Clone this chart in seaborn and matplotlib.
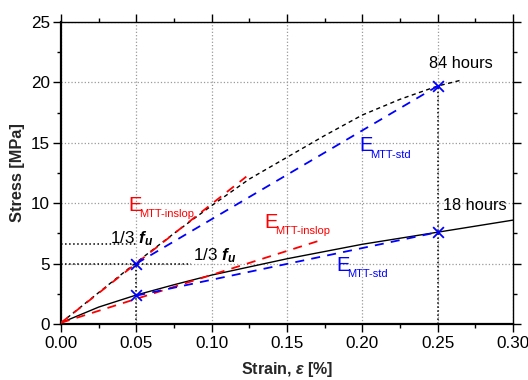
import matplotlib
matplotlib.use("Agg")
import matplotlib.pyplot as plt
import seaborn as sns
import numpy as np
from matplotlib.ticker import MultipleLocator, FormatStrFormatter

# ---- data ----
strain_84h = [0.0, 0.025, 0.05, 0.075, 0.10, 0.125, 0.15, 0.175, 0.20, 0.225, 0.25, 0.266]
stress_84h = [0.1, 2.6, 5.1, 7.5, 9.8, 12.0, 13.8, 15.6, 17.3, 18.6, 19.7, 20.2]

strain_18h = [0.0, 0.025, 0.05, 0.075, 0.10, 0.15, 0.20, 0.25, 0.30]
stress_18h = [0.1, 1.4, 2.4, 3.25, 4.05, 5.4, 6.6, 7.6, 8.6]

inslop_84h_x = [0.0, 0.123]
inslop_84h_y = [0.1, 12.2]
std_84h_x = [0.05, 0.25]
std_84h_y = [5.0, 19.7]

inslop_18h_x = [0.0, 0.174]
inslop_18h_y = [0.1, 7.0]
std_18h_x = [0.05, 0.25]
std_18h_y = [2.35, 7.6]

marker_x = [0.05, 0.25, 0.05, 0.25]
marker_y = [5.0, 19.7, 2.4, 7.6]

third_fu_84h = 6.6
third_fu_18h = 5.0

x_ticks = [0.00, 0.05, 0.10, 0.15, 0.20, 0.25, 0.30]
y_ticks = [0, 5, 10, 15, 20, 25]

sns.set_theme(style="ticks")
plt.rcParams['font.family'] = ['Liberation Sans', 'DejaVu Sans']
plt.rcParams['mathtext.fontset'] = 'custom'
plt.rcParams['mathtext.rm'] = 'Liberation Sans'
plt.rcParams['mathtext.it'] = 'Liberation Sans:italic:bold'
plt.rcParams['mathtext.bf'] = 'Liberation Sans:bold'

fig = plt.figure(figsize=(5.28, 3.8), dpi=100)
ax = fig.add_axes([61/528, 1-324/380, (513-61)/528, (324-22)/380])
ax.set_facecolor('white')

# grid
ax.grid(True, which='major', color='#9a9a9a', linestyle=':', linewidth=0.9)
ax.set_axisbelow(True)

# guide lines (dark dotted)
gl = dict(color='black', linestyle=':', linewidth=1.1, zorder=2)
ax.plot([marker_x[0], marker_x[0]], [0, marker_y[0]], **gl)
ax.plot([marker_x[1], marker_x[1]], [0, marker_y[1]], **gl)
ax.plot([0, 0.05], [third_fu_84h, third_fu_84h], **gl)
ax.plot([0, 0.086], [third_fu_18h, third_fu_18h], **gl)

# curves
sns.lineplot(x=strain_84h, y=stress_84h, ax=ax, color='black', linewidth=1.0,
             linestyle=(0, (3, 2.5)), zorder=3)
sns.lineplot(x=strain_18h, y=stress_18h, ax=ax, color='black', linewidth=1.0,
             linestyle='-', zorder=3)
sns.lineplot(x=inslop_84h_x, y=inslop_84h_y, ax=ax, color='#ff0000', linewidth=1.3,
             linestyle=(0, (5, 4)), zorder=4)
sns.lineplot(x=inslop_18h_x, y=inslop_18h_y, ax=ax, color='#ff0000', linewidth=1.3,
             linestyle=(0, (5, 4)), zorder=4)
sns.lineplot(x=std_84h_x, y=std_84h_y, ax=ax, color='#0000ff', linewidth=1.3,
             linestyle=(0, (5, 4)), zorder=4)
sns.lineplot(x=std_18h_x, y=std_18h_y, ax=ax, color='#0000ff', linewidth=1.3,
             linestyle=(0, (5, 4)), zorder=4)
sns.scatterplot(x=marker_x, y=marker_y, ax=ax, marker='x', color='#0000ff', s=60,
                linewidth=1.3, zorder=5)

ax.set_xlim(0, 0.30)
ax.set_ylim(0, 25)
ax.set_xticks(x_ticks)
ax.set_yticks(y_ticks)
ax.xaxis.set_major_formatter(FormatStrFormatter('%.2f'))
ax.xaxis.set_minor_locator(MultipleLocator(0.025))
ax.yaxis.set_minor_locator(MultipleLocator(2.5))
ax.tick_params(which='both', direction='out', top=True, right=True, colors='black',
               labelsize=12.3, labelcolor='black')
ax.tick_params(which='major', length=6, width=1.0)
ax.tick_params(which='minor', length=3, width=1.0)
ax.tick_params(axis='x', pad=3)
ax.tick_params(axis='y', pad=2)
for side in ['top', 'right']:
    ax.spines[side].set_linewidth(1.0)
    ax.spines[side].set_color('black')
for side in ['left', 'bottom']:
    ax.spines[side].set_linewidth(1.6)
    ax.spines[side].set_color('black')

ax.set_xlabel(r"Strain, $\varepsilon$ [%]", fontsize=11.5, fontweight='bold', labelpad=6)
ax.set_ylabel("Stress [MPa]", fontsize=11.8, fontweight='bold', labelpad=4)

# texts
ax.text(0.244, 21.6, "84 hours", fontsize=11.8, ha='left', va='center', color='black')
ax.text(0.2533, 9.8, "18 hours", fontsize=11.8, ha='left', va='center', color='black')

def e_label(x, y, sub, color):
    ax.text(x, y, "E", fontsize=14.5, ha='left', va='center', color=color, zorder=6)
    ax.annotate(sub, xy=(x, y), xytext=(8.0, -6.5), textcoords='offset points',
                fontsize=8, ha='left', va='center', color=color, zorder=6)

e_label(0.198, 14.76, "MTT-std", '#0000ff')
e_label(0.1825, 4.88, "MTT-std", '#0000ff')
e_label(0.0447, 9.85, "MTT-inslop", '#ff0000')
e_label(0.1347, 8.42, "MTT-inslop", '#ff0000')

ax.text(0.0325, 7.05, r"1/3 $f_u$", fontsize=12.3, ha='left', va='center', color='black')
ax.text(0.0876, 5.65, r"1/3 $f_u$", fontsize=12.3, ha='left', va='center', color='black')

fig.savefig("out.png", dpi=100, facecolor='white')
